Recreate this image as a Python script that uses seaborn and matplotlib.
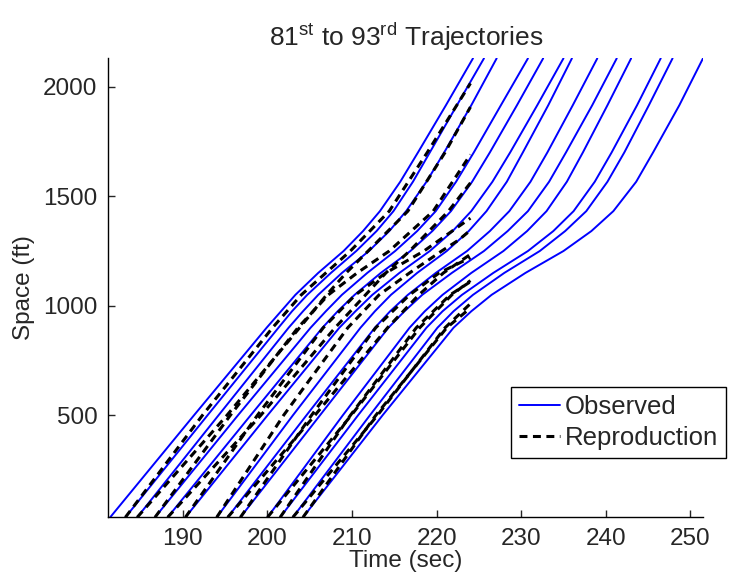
import numpy as np
import pandas as pd
import matplotlib
matplotlib.use("Agg")
import matplotlib.pyplot as plt
import seaborn as sns
from matplotlib.lines import Line2D

# ---------------- data ----------------
vehicles = list(range(81, 94))
space_levels = [35, 500, 900, 975, 1050, 1150, 1250, 1341, 1432, 1566, 1700, 1915, 2129]

# observed times (sec) at each space level, one row per vehicle
obs_times = [
    [181.4, 191.3, 199.9, 201.6, 203.3, 206.0, 209.0, 211.3, 213.3, 215.7, 217.8, 221.1, 224.3],
    [183.2, 192.9, 201.3, 202.9, 204.7, 207.5, 210.5, 212.9, 214.9, 217.2, 219.2, 222.4, 225.6],
    [184.6, 194.2, 202.5, 204.2, 206.0, 208.8, 212.0, 214.4, 216.4, 218.8, 220.9, 224.1, 227.1],
    [186.7, 196.5, 205.1, 206.9, 208.8, 211.8, 215.1, 217.7, 219.9, 222.3, 224.4, 227.6, 230.8],
    [188.2, 198.0, 206.5, 208.3, 210.3, 213.4, 216.9, 219.5, 221.7, 224.2, 226.3, 229.5, 232.6],
    [190.3, 200.0, 208.5, 210.4, 212.4, 215.6, 219.2, 221.9, 224.1, 226.6, 228.7, 231.9, 235.0],
    [194.0, 203.0, 211.0, 212.7, 214.6, 217.7, 221.2, 223.8, 225.9, 228.3, 230.2, 233.2, 236.0],
    [195.3, 204.6, 212.7, 214.5, 216.6, 219.9, 223.6, 226.3, 228.6, 231.1, 233.1, 236.1, 239.0],
    [196.8, 206.2, 214.3, 216.2, 218.3, 221.8, 225.6, 228.4, 230.8, 233.3, 235.3, 238.4, 241.3],
    [200.0, 208.9, 216.8, 218.6, 220.7, 224.1, 227.9, 230.7, 233.0, 235.4, 237.3, 240.2, 243.0],
    [201.5, 210.7, 218.8, 220.7, 223.0, 226.7, 230.8, 233.8, 236.2, 238.7, 240.7, 243.7, 246.5],
    [203.0, 212.1, 220.1, 222.0, 224.3, 228.0, 232.2, 235.2, 237.7, 240.2, 242.2, 245.1, 247.9],
    [204.2, 213.6, 222.0, 224.1, 226.5, 230.5, 235.0, 238.3, 240.9, 243.6, 245.6, 248.7, 251.5],
]

# reproduced trajectories (vehicles 82..93), simulated up to t = 224 s
rep_vehicles = list(range(82, 94))
rep_times = [
    [183.2, 192.3, 200.6, 204.0, 206.9, 209.8, 214.4, 218.9, 224.0],
    [184.6, 195.2, 203.8, 207.0, 209.3, 211.9, 216.6, 221.0, 224.0],
    [186.7, 195.6, 203.6, 207.2, 210.6, 214.4, 219.6, 224.0],
    [188.2, 199.2, 208.0, 211.6, 214.0, 216.8, 221.4, 224.0],
    [190.3, 198.8, 206.6, 210.4, 214.0, 218.5, 224.0],
    [194.0, 201.9, 209.5, 213.2, 216.8, 220.6, 222.6, 224.0],
    [195.3, 205.6, 214.2, 217.9, 220.8, 224.0],
    [196.8, 205.2, 212.8, 216.8, 220.3, 224.0],
    [200.0, 209.9, 218.0, 221.8, 224.0],
    [201.5, 209.8, 217.6, 221.6, 224.0],
    [203.0, 213.0, 221.0, 224.0],
    [204.2, 212.8, 221.2, 224.0],
]
rep_space = [
    [35, 500, 900, 1050, 1150, 1250, 1432, 1700, 2015],
    [35, 500, 900, 1050, 1150, 1250, 1432, 1700, 1907],
    [35, 500, 900, 1050, 1150, 1250, 1432, 1690],
    [35, 500, 900, 1050, 1150, 1250, 1432, 1561],
    [35, 500, 900, 1050, 1150, 1250, 1400],
    [35, 500, 900, 1050, 1150, 1250, 1300, 1345],
    [35, 500, 900, 1050, 1150, 1235],
    [35, 500, 900, 1050, 1150, 1220],
    [35, 500, 900, 1050, 1115],
    [35, 500, 900, 1050, 1110],
    [35, 500, 900, 1010],
    [35, 500, 900, 990],
]

x_ticks = [190, 200, 210, 220, 230, 240, 250]
y_ticks = [500, 1000, 1500, 2000]

# ---------------- tidy frames ----------------
obs_rows = []
for v, times in zip(vehicles, obs_times):
    for k, (t, s) in enumerate(zip(times, space_levels)):
        obs_rows.append({"vehicle": v, "order": k, "t": t, "s": s})
obs_df = pd.DataFrame(obs_rows)

rep_rows = []
for v, times, spaces in zip(rep_vehicles, rep_times, rep_space):
    for k, (t, s) in enumerate(zip(times, spaces)):
        rep_rows.append({"vehicle": v, "order": k, "t": t, "s": s})
rep_df = pd.DataFrame(rep_rows)

# ---------------- style ----------------
sns.set_style("ticks")
plt.rcParams["font.family"] = ["Liberation Sans", "DejaVu Sans"]
plt.rcParams["mathtext.fontset"] = "custom"
plt.rcParams["mathtext.rm"] = "Liberation Sans"
plt.rcParams["font.size"] = 17

fig = plt.figure(figsize=(7.3, 5.78), dpi=100)
ax = fig.add_axes([0.1486, 0.105, 0.8144, 0.794])

sns.lineplot(data=obs_df, x="t", y="s", units="vehicle", estimator=None,
             sort=False, color="#0000ff", lw=1.4, ax=ax, legend=False)
n_before = len(ax.lines)
sns.lineplot(data=rep_df, x="t", y="s", units="vehicle", estimator=None,
             sort=False, color="black", lw=2.2, ax=ax, legend=False)
for line in ax.lines[n_before:]:
    line.set_linestyle((0, (2.6, 1.8)))

ax.set_xlim(181.2, 251.5)
ax.set_ylim(35, 2129)
ax.set_xticks(x_ticks)
ax.set_yticks(y_ticks)
ax.tick_params(direction="in", length=5, width=1, labelsize=17.5, pad=8,
               colors="#262626")
ax.spines["top"].set_visible(False)
ax.spines["right"].set_visible(False)
for sp in ("left", "bottom"):
    ax.spines[sp].set_linewidth(1.0)
    ax.spines[sp].set_color("black")

ax.set_xlabel("Time (sec)", fontsize=17.5, labelpad=0, color="#262626")
ax.set_ylabel("Space (ft)", fontsize=17.5, labelpad=6, color="#262626")
ax.set_title(r"81$^{\mathrm{st}}$ to 93$^{\mathrm{rd}}$ Trajectories",
             fontsize=19, pad=9, color="#262626")

handles = [Line2D([], [], color="#0000ff", lw=1.4),
           Line2D([], [], color="black", lw=2.2, linestyle=(0, (2.6, 1.8)))]
leg = ax.legend(handles, ["Observed", "Reproduction"], loc="upper left",
                bbox_to_anchor=(0.700, 1 - 387 / 578), bbox_transform=fig.transFigure,
                fontsize=18.5, frameon=True, fancybox=False, framealpha=1,
                edgecolor="black", handlelength=1.6, handletextpad=0.2,
                labelspacing=0.3, borderpad=0.3, borderaxespad=0)
leg.get_frame().set_linewidth(1.0)
for txt in leg.get_texts():
    txt.set_color("#262626")

fig.savefig("out.png", dpi=100)
